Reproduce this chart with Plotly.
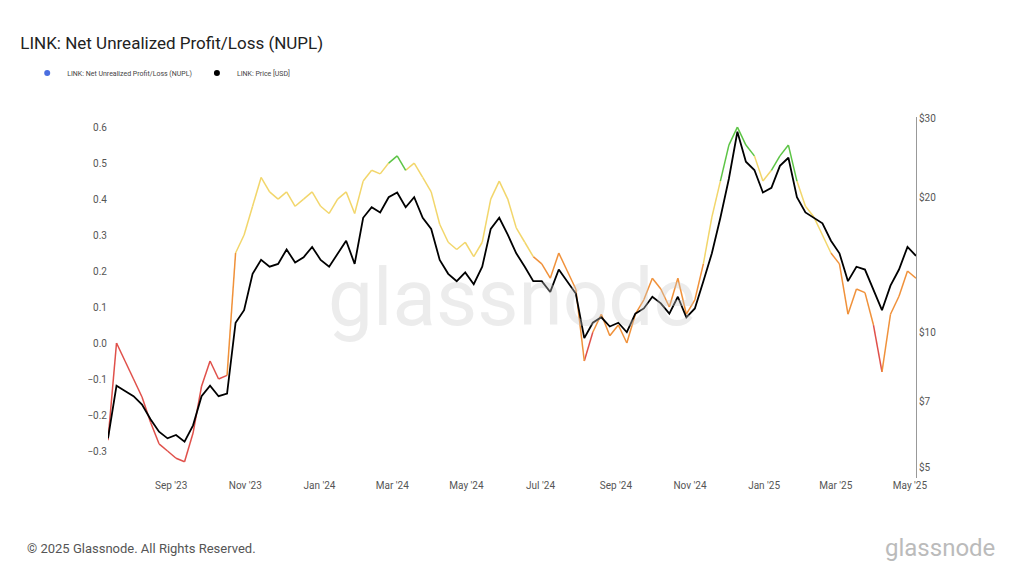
import pandas as pd
import plotly.graph_objects as go

start = "2023-07-11"
nupl = [-0.27,0.0,-0.05,-0.1,-0.15,-0.22,-0.28,-0.30,-0.32,-0.33,-0.25,-0.12,-0.05,-0.1,-0.09,
        0.25,0.3,0.38,0.46,0.42,0.4,0.42,0.38,0.4,0.42,0.38,0.36,0.4,0.42,0.36,0.45,0.48,0.47,0.5,
        0.52,0.48,0.5,0.46,0.42,0.33,0.28,0.26,0.28,0.24,0.28,0.4,0.45,0.4,0.32,0.28,0.24,0.22,0.18,
        0.25,0.2,0.15,-0.05,0.03,0.08,0.02,0.05,0.0,0.08,0.12,0.18,0.15,0.1,0.18,0.08,0.12,0.22,0.35,
        0.45,0.55,0.6,0.55,0.52,0.45,0.48,0.52,0.55,0.45,0.38,0.35,0.3,0.25,0.22,0.08,0.15,0.14,0.05,
        -0.08,0.08,0.13,0.2,0.18]
price = [5.8,7.6,7.4,7.2,6.9,6.4,6.0,5.8,5.9,5.7,6.2,7.2,7.6,7.2,7.3,
         10.5,11.2,13.5,14.5,14.0,14.2,15.3,14.3,14.7,15.5,14.5,14.0,15.0,16.0,14.2,18.0,19.0,18.5,20.0,
         20.5,19.0,20.0,18.0,17.0,14.5,13.5,13.0,13.6,12.8,14.0,17.0,18.0,16.5,15.0,14.0,13.0,13.0,12.3,
         13.8,13.0,12.2,9.7,10.5,10.8,10.3,10.5,10.0,11.0,11.3,12.0,11.6,11.0,12.0,10.8,11.3,13.0,15.0,
         18.0,22.0,28.0,24.0,23.0,20.5,21.0,23.5,24.5,20.0,18.5,18.0,17.5,16.0,15.0,13.0,14.0,13.8,12.4,
         11.2,12.7,13.8,15.5,14.8]
dates = pd.date_range(start, periods=len(nupl), freq="7D")

def cls(v):
    if v < 0: return 0
    if v < 0.25: return 1
    if v < 0.5: return 2
    return 3
colors = ["#e0504a", "#f0913a", "#f2d66b", "#5cc445"]

fig = go.Figure()
segs = {i: ([], []) for i in range(4)}
for i in range(len(nupl) - 1):
    c = cls((nupl[i] + nupl[i+1]) / 2)
    segs[c][0].extend([dates[i], dates[i+1], None])
    segs[c][1].extend([nupl[i], nupl[i+1], None])
for c in range(4):
    fig.add_trace(go.Scatter(x=segs[c][0], y=segs[c][1], mode="lines", line=dict(color=colors[c], width=1.5),
                             showlegend=False, hoverinfo="skip"))
fig.add_trace(go.Scatter(x=dates, y=price, mode="lines", line=dict(color="black", width=1.8),
                         yaxis="y2", showlegend=False))
fig.add_trace(go.Scatter(x=[None], y=[None], mode="markers", marker=dict(color="#4a6ee0", size=6),
                         name="LINK: Net Unrealized Profit/Loss (NUPL)"))
fig.add_trace(go.Scatter(x=[None], y=[None], mode="markers", marker=dict(color="black", size=6),
                         name="LINK: Price [USD]"))

fig.update_layout(
    width=1024, height=573, paper_bgcolor="white", plot_bgcolor="white",
    margin=dict(l=100, r=116, t=109, b=103, autoexpand=False),
    font=dict(family="Roboto, sans-serif", color="#555", size=10),
    title=dict(text="LINK: Net Unrealized Profit/Loss (NUPL)", x=0.012, y=0.95, xanchor="left",
               font=dict(size=17, color="#222")),
    legend=dict(orientation="h", x=-0.1, y=1.122, xanchor="left", yanchor="middle",
                font=dict(size=7, color="#444")),
    xaxis=dict(range=[dates[0], dates[-1]], showgrid=False, tickformat="%b '%y", dtick="M2",
               tick0="2023-09-01", ticks="", showline=False),
    yaxis=dict(range=[-0.375, 0.628], showgrid=False, dtick=0.1, zeroline=False, tickformat=".1f"),
    yaxis2=dict(overlaying="y", side="right", type="log", range=[0.675, 1.48],
                tickvals=[5, 7, 10, 20, 30], ticktext=["$5", "$7", "$10", "$20", "$30"],
                showgrid=False, showline=True, linecolor="#999", linewidth=1),
    annotations=[
        dict(text="glassnode", x=0.5, y=0.5, xref="paper", yref="paper", showarrow=False,
             font=dict(size=80, color="rgba(200,200,200,0.35)")),
        dict(text="© 2025 Glassnode. All Rights Reserved.", x=-0.103, y=-0.194, xref="paper", yref="paper",
             xanchor="left", yanchor="middle", showarrow=False, font=dict(size=13, color="#555")),
        dict(text="glassnode", x=1.1, y=-0.194, xref="paper", yref="paper", xanchor="right", yanchor="middle",
             showarrow=False, font=dict(size=24, color="#bbb")),
    ],
)
fig.write_html("out.html")
